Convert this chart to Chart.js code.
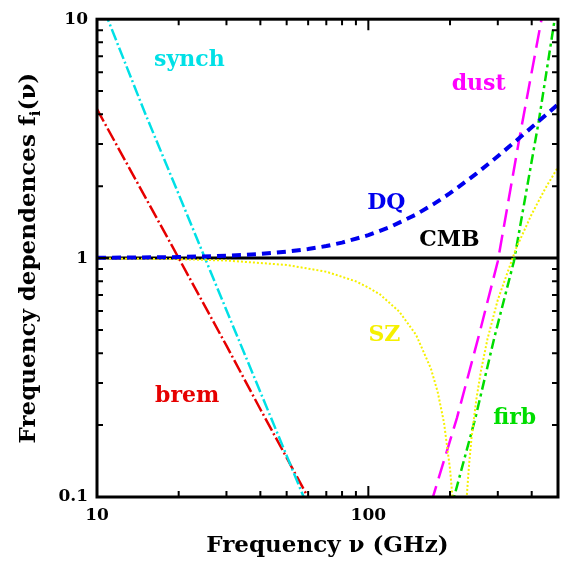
<!DOCTYPE html>
<html>
<head>
<meta charset="utf-8">
<script src="https://cdn.jsdelivr.net/npm/chart.js@4.4.1/dist/chart.umd.min.js"></script>
<style>
  body { margin: 0; background: #fff; }
  canvas { display: block; }
</style>
</head>
<body>
<canvas id="chart" width="570" height="566"></canvas>
<script>
// values (log-log, frequency in GHz)
const cmbFreq = [10, 500];
const cmbVals = [1, 1];

const dqFreq = [10, 20, 30, 40, 50, 60, 70, 80, 100, 120, 150, 175, 200, 250, 300, 350, 400, 450, 500];
const dqVals = [1.003, 1.010, 1.023, 1.041, 1.064, 1.091, 1.123, 1.161, 1.247, 1.347, 1.523, 1.690, 1.869, 2.256, 2.669, 3.095, 3.528, 3.966, 4.404];

const szFreq = [10, 20, 30, 50, 70, 90, 100, 110, 130, 150, 170, 180, 190, 200, 205, 210, 225, 230, 235, 240, 250, 260, 275, 300, 350, 400, 450, 500];
const szVals = [0.997, 0.990, 0.977, 0.936, 0.877, 0.799, 0.753, 0.707, 0.597, 0.477, 0.345, 0.276, 0.205, 0.131, 0.095, 0.057, 0.058, 0.097, 0.136, 0.176, 0.256, 0.337, 0.460, 0.669, 1.095, 1.528, 1.966, 2.403];

const synchFreq = [10, 15, 20, 25, 30, 40, 50, 60, 70];
const synchVals = [13.0, 4.07, 1.85, 1.0, 0.605, 0.275, 0.149, 0.090, 0.059];

const bremFreq = [10, 20, 30, 40, 50, 60, 70];
const bremVals = [4.2, 1.0, 0.43, 0.233, 0.146, 0.0995, 0.072];

const dustFreq = [160, 173, 212, 255, 300, 361, 433, 450];
const dustVals = [0.074, 0.1, 0.214, 0.47, 0.97, 3.21, 9.75, 12.2];

const firbFreq = [200, 207, 248, 292, 344, 425, 483, 500];
const firbVals = [0.087, 0.1, 0.214, 0.47, 0.97, 3.76, 9.53, 12.2];

const xTickLabels = [10, 100];
const yTickLabels = [0.1, 1, 10];
const xMinorTicks = [20, 30, 40, 50, 60, 70, 80, 90, 200, 300, 400];
const xMajorTicks = [100];
const yMinorTicks = [0.2, 0.3, 0.4, 0.5, 0.6, 0.7, 0.8, 0.9, 2, 3, 4, 5, 6, 7, 8, 9];
const yMajorTicks = [1];

// curve names and where they sit (data coords)
const curveLabels = [
  { text: 'synch', x: 21.9, y: 6.72, color: '#00e0e6' },
  { text: 'dust', x: 255, y: 5.36, color: '#ff00ff' },
  { text: 'DQ', x: 116.5, y: 1.69, color: '#0000ee' },
  { text: 'CMB', x: 199, y: 1.19, color: '#000000' },
  { text: 'SZ', x: 114.6, y: 0.476, color: '#f5f000' },
  { text: 'brem', x: 21.5, y: 0.265, color: '#e60000' },
  { text: 'firb', x: 346, y: 0.213, color: '#00dd00' }
];

const FONT = '"DejaVu Serif", serif';

function pts(xs, ys) {
  return xs.map((x, i) => ({ x: x, y: ys[i] }));
}

function line(label, xs, ys, color, width, dash) {
  return {
    label: label,
    data: pts(xs, ys),
    borderColor: color,
    borderWidth: width,
    borderDash: dash,
    pointRadius: 0,
    tension: 0,
    fill: false,
    clip: 0
  };
}

// frame + inward ticks on all four sides
const framePlugin = {
  id: 'frame',
  afterDatasetsDraw(chart) {
    const { ctx, chartArea: a, scales: { x, y } } = chart;
    ctx.save();
    ctx.strokeStyle = '#000';
    ctx.lineWidth = 2;
    const tick = (vals, len, horiz) => {
      vals.forEach(v => {
        ctx.beginPath();
        if (horiz) {
          const px = x.getPixelForValue(v);
          ctx.moveTo(px, a.bottom); ctx.lineTo(px, a.bottom - len);
          ctx.moveTo(px, a.top); ctx.lineTo(px, a.top + len);
        } else {
          const py = y.getPixelForValue(v);
          ctx.moveTo(a.left, py); ctx.lineTo(a.left + len, py);
          ctx.moveTo(a.right, py); ctx.lineTo(a.right - len, py);
        }
        ctx.stroke();
      });
    };
    tick(xMinorTicks, 6, true);
    tick(xMajorTicks, 11, true);
    tick(yMinorTicks, 6, false);
    tick(yMajorTicks, 11, false);
    ctx.lineWidth = 3;
    ctx.strokeRect(a.left, a.top, a.right - a.left, a.bottom - a.top);
    ctx.restore();
  }
};

const labelPlugin = {
  id: 'curveLabels',
  afterDatasetsDraw(chart) {
    const { ctx, scales: { x, y } } = chart;
    ctx.save();
    ctx.font = 'bold 22px ' + FONT;
    ctx.textAlign = 'center';
    ctx.textBaseline = 'middle';
    curveLabels.forEach(l => {
      ctx.fillStyle = l.color;
      ctx.fillText(l.text, x.getPixelForValue(l.x), y.getPixelForValue(l.y));
    });
    ctx.restore();
  }
};

// y title with a real subscript i
const yTitlePlugin = {
  id: 'yTitle',
  afterDraw(chart) {
    const { ctx, chartArea: a } = chart;
    const parts = [
      { t: 'Frequency dependences f', size: 23, dy: 0 },
      { t: 'i', size: 15, dy: 7 },
      { t: '(ν)', size: 23, dy: 0 }
    ];
    ctx.save();
    ctx.translate(29, (a.top + a.bottom) / 2);
    ctx.rotate(-Math.PI / 2);
    ctx.fillStyle = '#000';
    ctx.textBaseline = 'middle';
    ctx.textAlign = 'left';
    let total = 0;
    parts.forEach(p => {
      ctx.font = 'bold ' + p.size + 'px ' + FONT;
      p.w = ctx.measureText(p.t).width;
      total += p.w;
    });
    let cx = -total / 2;
    parts.forEach(p => {
      ctx.font = 'bold ' + p.size + 'px ' + FONT;
      ctx.fillText(p.t, cx, p.dy);
      cx += p.w;
    });
    ctx.restore();
  }
};

new Chart(document.getElementById('chart'), {
  type: 'line',
  data: {
    datasets: [
      line('DQ', dqFreq, dqVals, '#0000ee', 4, [9, 6]),
      line('SZ', szFreq, szVals, '#f5f000', 2, [2, 2]),
      line('synch', synchFreq, synchVals, '#00e0e6', 2.5, [12, 3, 2, 3]),
      line('brem', bremFreq, bremVals, '#e60000', 2.5, [14, 3, 2, 3]),
      line('dust', dustFreq, dustVals, '#ff00ff', 2.5, [18, 8]),
      line('firb', firbFreq, firbVals, '#00dd00', 2.5, [10, 4, 3, 4]),
      line('CMB', cmbFreq, cmbVals, '#000000', 3, [])
    ]
  },
  options: {
    responsive: false,
    animation: false,
    layout: { padding: { top: 10, right: 12, left: 0, bottom: 0 } },
    plugins: { legend: { display: false }, tooltip: { enabled: false } },
    scales: {
      x: {
        type: 'logarithmic',
        min: 10,
        max: 500,
        grid: { display: false, drawTicks: false },
        border: { display: false },
        afterBuildTicks: s => { s.ticks = xTickLabels.map(v => ({ value: v })); },
        afterFit: s => { s.height = 69; },
        ticks: {
          autoSkip: false,
          maxRotation: 0,
          padding: 8,
          color: '#000',
          font: { family: FONT, size: 17, weight: 'bold' },
          callback: v => String(v)
        },
        title: {
          display: true,
          text: 'Frequency ν (GHz)',
          color: '#000',
          font: { family: FONT, size: 23, weight: 'bold' },
          padding: { top: 0, bottom: 6 }
        }
      },
      y: {
        type: 'logarithmic',
        min: 0.1,
        max: 10,
        grid: { display: false, drawTicks: false },
        border: { display: false },
        afterBuildTicks: s => { s.ticks = yTickLabels.map(v => ({ value: v })); },
        afterFit: s => { s.width = 97; },
        ticks: {
          autoSkip: false,
          padding: 9,
          color: '#000',
          font: { family: FONT, size: 17, weight: 'bold' },
          callback: v => String(v)
        }
      }
    }
  },
  plugins: [framePlugin, labelPlugin, yTitlePlugin]
});
</script>
</body>
</html>
